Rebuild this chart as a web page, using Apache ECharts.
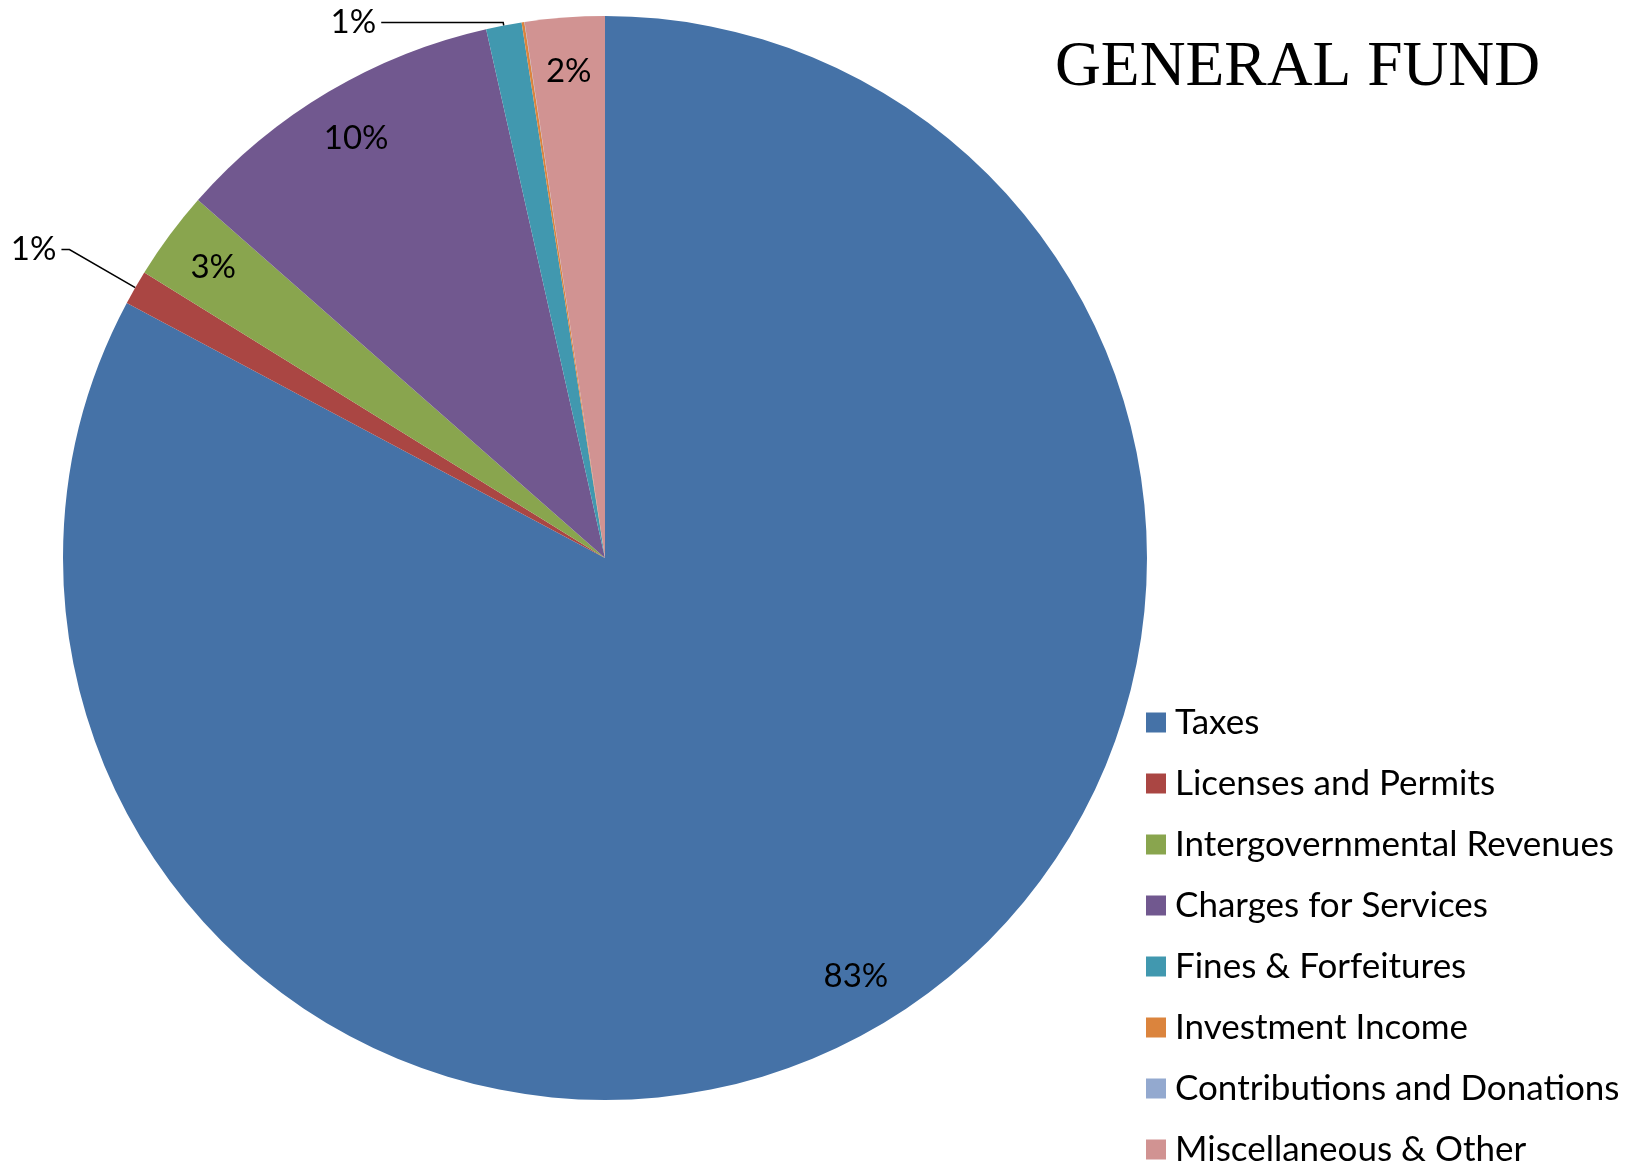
<!DOCTYPE html>
<html>
<head>
<meta charset="utf-8">
<title>General Fund</title>
<script src="https://cdn.jsdelivr.net/npm/echarts@6/dist/echarts.min.js"></script>
<style>
  html, body { margin: 0; padding: 0; background: #fff; }
  #chart { width: 1635px; height: 1165px; }
</style>
</head>
<body>
<div id="chart"></div>
<script>
// share of general fund revenue, percent
var names = ['Taxes', 'Licenses and Permits', 'Intergovernmental Revenues', 'Charges for Services',
  'Fines & Forfeitures', 'Investment Income', 'Contributions and Donations', 'Miscellaneous & Other']
var values = [82.8, 1.03, 2.65, 10.0, 1.06, 0.08, 0.01, 2.37]
var colors = ['#4572A7', '#AA4643', '#89A54E', '#71588F', '#4198AF', '#DB843D', '#93A9CF', '#D19392']

// which slices get a label outside with a leader line, and which get none
var outsideNames = ['Licenses and Permits', 'Fines & Forfeitures']
var hiddenNames = ['Investment Income', 'Contributions and Donations']

var CX = 605
var CY = 558
var R = 542
var labelFont = 'Lato, "Open Sans", sans-serif'

var chart = echarts.init(document.getElementById('chart'), null, { renderer: 'canvas' })

var pieData = names.map(function(n, i) {
  var item = { name: n, value: values[i], itemStyle: { color: colors[i] } }
  if (hiddenNames.indexOf(n) >= 0) {
    item.label = { show: false }
    item.labelLine = { show: false }
  } else if (n === 'Licenses and Permits') {
    item.label = { position: 'outside' }
    item.labelLine = { show: true, length: 76, length2: 8 }
  } else if (n === 'Fines & Forfeitures') {
    item.label = { position: 'outside' }
    item.labelLine = { show: true, length: 3, length2: 122 }
  }
  return item
})

var option = {
  animation: false,
  backgroundColor: '#fff',
  title: {
    text: 'GENERAL FUND',
    left: 1050,
    top: 31,
    textStyle: {
      fontFamily: '"Liberation Serif", "DejaVu Serif", serif',
      fontWeight: 'normal',
      fontSize: 63.5,
      color: '#000'
    }
  },
  legend: {
    orient: 'vertical',
    left: 1141,
    top: 700,
    height: 520,
    itemWidth: 20,
    itemHeight: 20,
    itemGap: 26,
    icon: 'rect',
    selectedMode: false,
    data: names,
    textStyle: {
      fontFamily: labelFont,
      fontSize: 35,
      color: '#000',
      padding: [0, 0, 0, 4]
    }
  },
  series: [{
    type: 'pie',
    center: [CX, CY],
    radius: [0, R],
    startAngle: 90,
    clockwise: true,
    avoidLabelOverlap: false,
    itemStyle: { borderWidth: 0 },
    label: {
      show: true,
      position: 'inside',
      color: '#000',
      fontFamily: labelFont,
      fontSize: 33,
      formatter: function(p) {
        return Math.round(p.percent) + '%'
      }
    },
    labelLine: {
      show: false,
      lineStyle: { color: '#000', width: 1.5 }
    },
    // push the inside labels out toward the rim, like the original
    labelLayout: function(p) {
      if (outsideNames.indexOf(names[p.dataIndex]) >= 0) {
        return {}
      }
      var r = p.labelRect
      var lx = r.x + r.width / 2
      var ly = r.y + r.height / 2
      var k = 1.78
      return { x: CX + (lx - CX) * k, y: CY + (ly - CY) * k }
    },
    data: pieData
  }]
}

chart.setOption(option)
</script>
</body>
</html>
